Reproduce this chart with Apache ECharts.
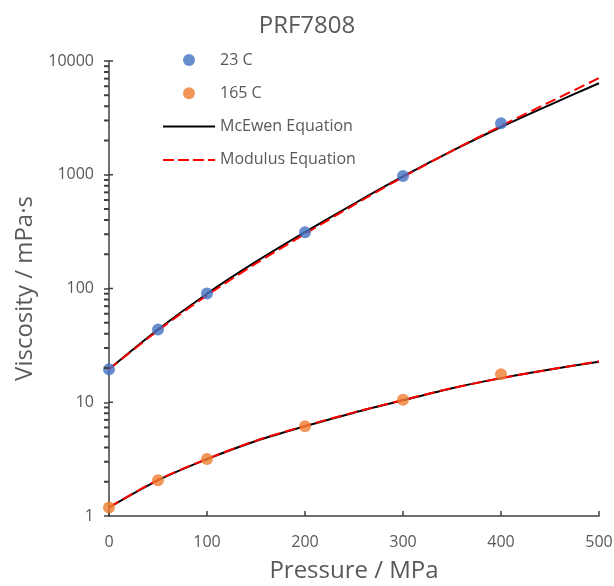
<!DOCTYPE html>
<html>
<head>
<meta charset="utf-8">
<script src="https://cdn.jsdelivr.net/npm/echarts@6/dist/echarts.min.js"></script>
<style>
  html, body { margin: 0; padding: 0; background: #fff; }
  #chart { width: 614px; height: 586px; }
</style>
</head>
<body>
<div id="chart"></div>
<script>
// Measured data points
const pressure = [0, 50, 100, 200, 300, 400];
const visc23C = [19.5, 43.5, 90.5, 312, 975, 2830];
const visc165C = [1.19, 2.06, 3.17, 6.15, 10.5, 17.6];

// Fitted curves
const curvePressure = [0, 50, 100, 150, 200, 250, 300, 350, 400, 450, 500];
const mcewen23C = [19.5, 43.6, 90, 172, 313, 556, 966, 1622, 2630, 4120, 6370];
const modulus23C = [19.5, 42.7, 87.1, 166, 302, 543, 955, 1622, 2690, 4365, 7080];
const mcewen165C = [1.19, 2.06, 3.16, 4.56, 6.15, 8.1, 10.4, 13.3, 16.3, 19.4, 22.7];
const modulus165C = [1.19, 2.08, 3.17, 4.6, 6.2, 8.15, 10.45, 13.3, 16.3, 19.4, 22.9];

// Axis ticks
const xTicks = [0, 100, 200, 300, 400, 500];
const yTicks = [1, 10, 100, 1000, 10000];
const yMinorTicks = [2,3,4,5,6,7,8,9,20,30,40,50,60,70,80,90,200,300,400,500,600,700,800,900,2000,3000,4000,5000,6000,7000,8000,9000];

const FONT = '"Open Sans", "Noto Sans", sans-serif';
const TXT = '#595959';
const AXIS = '#404040';

function pairs(xs, ys) { return xs.map((x, i) => [x, ys[i]]); }

const chart = echarts.init(document.getElementById('chart'), null, { renderer: 'canvas' });

const option = {
  animation: false,
  backgroundColor: '#fff',
  textStyle: { fontFamily: FONT },
  title: {
    text: 'PRF7808',
    left: 'center',
    top: 9,
    textStyle: { fontFamily: FONT, fontSize: 24, fontWeight: 'normal', color: TXT }
  },
  legend: {
    orient: 'vertical',
    left: 157,
    top: 47,
    itemWidth: 52,
    itemHeight: 12,
    itemGap: 17.3,
    textStyle: { fontFamily: FONT, fontSize: 16, color: TXT },
    data: [
      { name: '23 C' },
      { name: '165 C' },
      { name: 'McEwen Equation', itemStyle: { opacity: 0 }, lineStyle: { color: '#000000', width: 2 } },
      { name: 'Modulus Equation', itemStyle: { opacity: 0 }, lineStyle: { color: '#ff0000', width: 2, type: [11, 4] } }
    ]
  },
  grid: { left: 109, right: 15, top: 61, bottom: 70, containLabel: false, outerBoundsMode: 'none' },
  xAxis: {
    type: 'value',
    min: 0, max: 500, interval: 100,
    name: 'Pressure / MPa',
    nameLocation: 'middle',
    nameGap: 43,
    nameTextStyle: { fontFamily: FONT, fontSize: 24, color: TXT },
    axisLine: { onZero: false, lineStyle: { color: AXIS, width: 1.5 } },
    axisTick: { inside: true, length: 5, lineStyle: { color: AXIS, width: 1.5 } },
    axisLabel: { margin: 18, fontFamily: FONT, fontSize: 16, color: TXT,
      formatter: v => xTicks.includes(v) ? String(v) : '' },
    splitLine: { show: false }
  },
  yAxis: {
    type: 'log',
    logBase: 10,
    min: 1, max: 10000,
    name: 'Viscosity / mPa·s',
    nameLocation: 'middle',
    nameGap: 66,
    nameTextStyle: { fontFamily: FONT, fontSize: 24, color: TXT },
    axisLine: { lineStyle: { color: AXIS, width: 1.5 } },
    axisTick: { length: 5, lineStyle: { color: AXIS, width: 1.5 } },
    axisLabel: { margin: 15, fontFamily: FONT, fontSize: 16, color: TXT,
      formatter: v => yTicks.includes(Math.round(v)) ? String(Math.round(v)) : '' },
    splitLine: { show: false }
  },
  series: [
    {
      name: 'minorTicks',
      type: 'scatter',
      silent: true,
      clip: false,
      z: 5,
      symbol: 'rect',
      symbolSize: [5, 2],
      symbolOffset: [-2.5, 0],
      itemStyle: { color: AXIS, opacity: 1 },
      emphasis: { disabled: true },
      data: yMinorTicks.map(v => [0, v])
    },
    {
      name: 'majorTicksInner',
      type: 'scatter',
      silent: true,
      clip: false,
      z: 5,
      symbol: 'rect',
      symbolSize: [4, 1.5],
      symbolOffset: [2, 0],
      itemStyle: { color: AXIS, opacity: 1 },
      emphasis: { disabled: true },
      data: yTicks.slice(1).map(v => [0, v])
    },
    {
      name: 'McEwen Equation', type: 'line', smooth: 0.3, symbol: 'none', z: 2,
      color: '#000000',
      lineStyle: { color: '#000000', width: 2 },
      data: pairs(curvePressure, mcewen23C)
    },
    {
      name: 'McEwen Equation', type: 'line', smooth: 0.3, symbol: 'none', z: 2,
      color: '#000000',
      lineStyle: { color: '#000000', width: 2 },
      data: pairs(curvePressure, mcewen165C)
    },
    {
      name: 'Modulus Equation', type: 'line', smooth: 0.3, symbol: 'none', z: 3,
      color: '#ff0000',
      lineStyle: { color: '#ff0000', width: 2, type: [11, 5] },
      data: pairs(curvePressure, modulus23C)
    },
    {
      name: 'Modulus Equation', type: 'line', smooth: 0.3, symbol: 'none', z: 3,
      color: '#ff0000',
      lineStyle: { color: '#ff0000', width: 2, type: [11, 5] },
      data: pairs(curvePressure, modulus165C)
    },
    {
      name: '23 C', type: 'scatter', symbol: 'circle', symbolSize: 12, z: 4,
      itemStyle: { color: '#4472C4' },
      data: pairs(pressure, visc23C)
    },
    {
      name: '165 C', type: 'scatter', symbol: 'circle', symbolSize: 12, z: 4,
      itemStyle: { color: '#ED7D31' },
      data: pairs(pressure, visc165C)
    }
  ]
};

chart.setOption(option);
</script>
</body>
</html>
